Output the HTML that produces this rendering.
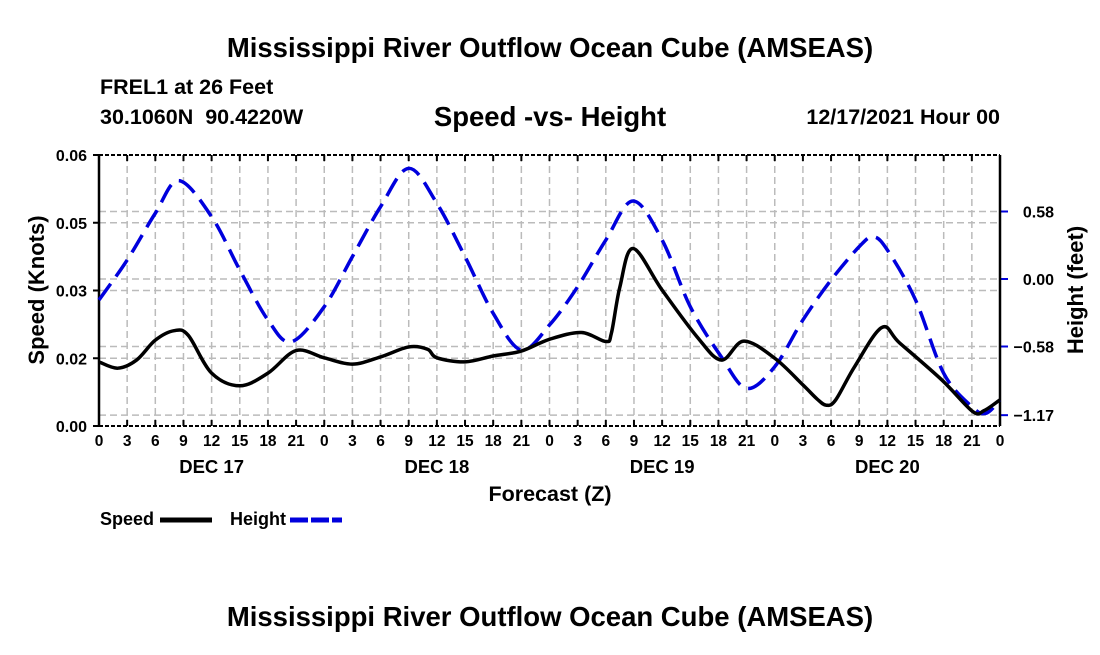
<!DOCTYPE html>
<html><head><meta charset="utf-8"><style>
body{margin:0;background:#fff;}
svg text{font-family:"Liberation Sans",sans-serif;font-weight:bold;fill:#000;}
</style></head><body>
<svg id="c" width="1100" height="650" viewBox="0 0 1100 650" xmlns="http://www.w3.org/2000/svg">
<text x="550" y="57" font-size="27.5" text-anchor="middle">Mississippi River Outflow Ocean Cube (AMSEAS)</text>
<text x="100" y="94" font-size="21.5">FREL1 at 26 Feet</text>
<text x="100" y="124" font-size="21.5">30.1060N&#160;&#160;90.4220W</text>
<text x="550" y="126" font-size="27.5" text-anchor="middle">Speed -vs- Height</text>
<text x="1000" y="124" font-size="21.5" text-anchor="end">12/17/2021 Hour 00</text>
<text x="550" y="501" font-size="21.5" text-anchor="middle">Forecast (Z)</text>
<text transform="translate(44,290) rotate(-90)" font-size="22" text-anchor="middle">Speed (Knots)</text>
<text transform="translate(1083,290) rotate(-90)" font-size="22" text-anchor="middle">Height (feet)</text>
<g>
<text x="100" y="525" font-size="18">Speed</text>
<line x1="160" y1="520" x2="212" y2="520" stroke="#000" stroke-width="5"/>
<text x="230" y="525" font-size="18">Height</text>
<line x1="290" y1="520" x2="342" y2="520" stroke="#0000dd" stroke-width="5" stroke-dasharray="18 3"/>
</g>
<text x="550" y="626" font-size="27.5" text-anchor="middle">Mississippi River Outflow Ocean Cube (AMSEAS)</text>
<g id="plot"></g>
</svg>
<script>
const speedHours=[0,2,4,6,8,9.5,12,15,18,21,24,27,30,33,35,36,39,42,45,48,51.4,54,54.6,55.5,56.9,60,63.7,66.3,68.7,72,75,76.5,77.5,78.5,80.5,83.4,85.3,89.8,93.1,94.3,96];
const speedValues=[0.0142,0.0128,0.0146,0.019,0.0211,0.0201,0.0117,0.0089,0.0117,0.0167,0.0151,0.0137,0.0153,0.0175,0.017,0.0151,0.0142,0.0155,0.0166,0.0192,0.0207,0.0187,0.0206,0.0308,0.0393,0.0301,0.0198,0.0146,0.0188,0.015,0.0091,0.006,0.0046,0.0058,0.0131,0.0218,0.0184,0.0102,0.0032,0.0034,0.0058];
const heightHours=[0,3,6,8.5,12,15,18,20.5,24,27,30,33,36,39,42,45,48,51,54,56.9,60,63,66.3,69,72,75,78,81,82.5,84,87,90,93,94.5,96];
const heightValues=[-0.18,0.163,0.565,0.845,0.535,0.077,-0.352,-0.539,-0.238,0.192,0.621,0.951,0.65,0.192,-0.295,-0.61,-0.395,-0.066,0.335,0.67,0.335,-0.238,-0.668,-0.94,-0.753,-0.352,-0.009,0.278,0.363,0.249,-0.18,-0.81,-1.097,-1.154,-1.04];
const leftTicks=[0,0.015,0.03,0.045,0.06];
const leftTickLabels=["0.00","0.02","0.03","0.05","0.06"];
const rightTicks=[-1.17,-0.58,0,0.58];
const rightTickLabels=["\u22121.17","\u22120.58","0.00","0.58"];
const dayLabels=["DEC 17","DEC 18","DEC 19","DEC 20"];

const X0=99,X1=1000,Y0=426,Y1=155;
const xs=h=>X0+(h/96)*(X1-X0);
const ySpeed=v=>Y0-(v/0.06)*(Y0-Y1);
const yHeight=v=>279-(v/0.58)*67.5;
const NS="http://www.w3.org/2000/svg";
const g=document.getElementById('plot');
function mk(t,a){const e=document.createElementNS(NS,t);for(const k in a)e.setAttribute(k,a[k]);g.appendChild(e);return e;}
function smooth(px,py){let d=`M${px[0]},${py[0]}`;for(let i=0;i<px.length-1;i++){const x0=px[Math.max(i-1,0)],y0=py[Math.max(i-1,0)],x3=px[Math.min(i+2,px.length-1)],y3=py[Math.min(i+2,px.length-1)];const c1x=px[i]+(px[i+1]-x0)/6,c1y=py[i]+(py[i+1]-y0)/6,c2x=px[i+1]-(x3-px[i])/6,c2y=py[i+1]-(y3-py[i])/6;d+=` C${c1x},${c1y} ${c2x},${c2y} ${px[i+1]},${py[i+1]}`;}return d;}
for(let h=3;h<96;h+=3){const e=mk('line',{x1:xs(h),x2:xs(h),y1:Y1,y2:Y0,stroke:'#bbb','stroke-width':1.5,'stroke-dasharray':'7 4'});

}
leftTicks.forEach((v,i)=>{if(i>0&&i<leftTicks.length-1){const e=mk('line',{x1:X0,x2:X1,y1:ySpeed(v),y2:ySpeed(v),stroke:'#bbb','stroke-width':1.5,'stroke-dasharray':'7 4'});

}
const t=mk('line',{x1:X0-6,x2:X0,y1:ySpeed(v),y2:ySpeed(v),stroke:'#000','stroke-width':2});


const l=mk('text',{x:X0-12,y:ySpeed(v)+6,'font-size':16,'text-anchor':'end'});l.textContent=leftTickLabels[i];

});
rightTicks.forEach((v,i)=>{const e=mk('line',{x1:X0,x2:X1,y1:yHeight(v),y2:yHeight(v),stroke:'#bbb','stroke-width':1.5,'stroke-dasharray':'7 4'});


const t=mk('line',{x1:X1,x2:X1+8,y1:yHeight(v),y2:yHeight(v),stroke:'#0000dd','stroke-width':2});


const l=mk('text',{x:1054,y:yHeight(v)+6,'font-size':16,'text-anchor':'end'});l.textContent=rightTickLabels[i];

});
for(let h=0;h<=96;h+=3){const t=mk('line',{x1:xs(h),x2:xs(h),y1:Y0,y2:Y0-6,stroke:'#000','stroke-width':2});


const t2=mk('line',{x1:xs(h),x2:xs(h),y1:Y1,y2:Y1+6,stroke:'#000','stroke-width':2});


const l=mk('text',{x:xs(h),y:446,'font-size':15.5,'text-anchor':'middle'});l.textContent=String(h%24);

}
dayLabels.forEach((d,i)=>{const l=mk('text',{x:xs(i*24+12),y:473,'font-size':18.5,'text-anchor':'middle'});l.textContent=d;

});
[[X0,Y1,X1,Y1],[X0,Y0,X1,Y0]].forEach(a=>{const e=mk('line',{x1:a[0],y1:a[1],x2:a[2],y2:a[3],stroke:'#000','stroke-width':2,'stroke-dasharray':'4 2'});

});
[X0,X1].forEach(x=>{const e=mk('line',{x1:x,y1:Y1,x2:x,y2:Y0,stroke:'#000','stroke-width':2.5});

});
const hp=mk('path',{d:smooth(heightHours.map(xs),heightValues.map(yHeight)),fill:'none',stroke:'#0000dd','stroke-width':3.5,'stroke-dasharray':'20 9'});


const sp=mk('path',{d:smooth(speedHours.map(xs),speedValues.map(ySpeed)),fill:'none',stroke:'#000','stroke-width':3.5,'stroke-linejoin':'round'});


</script>
</body></html>
